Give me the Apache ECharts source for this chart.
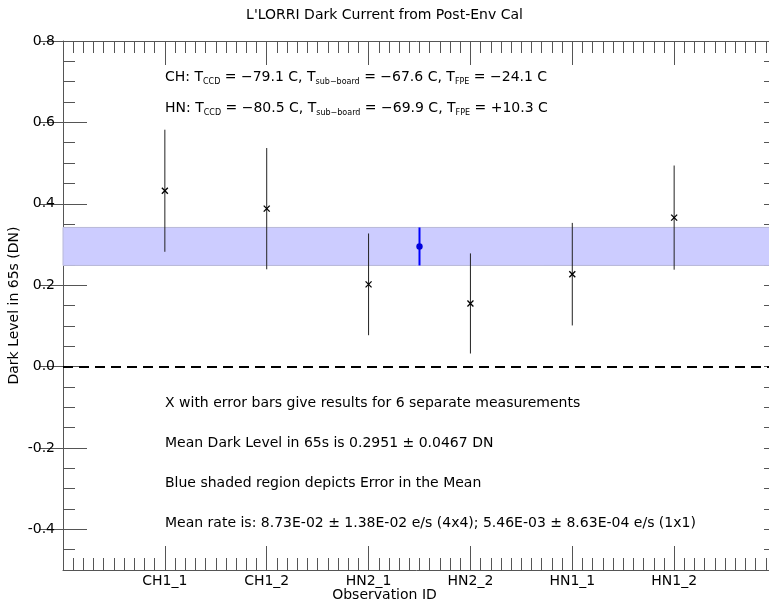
<!DOCTYPE html>
<html><head><meta charset="utf-8">
<script src="https://cdn.jsdelivr.net/npm/echarts@6/dist/echarts.min.js"></script>
<style>html,body{margin:0;padding:0;background:#fff}#c{width:769px;height:604px}</style>
</head><body><div id="c"></div>
<script>
// ---- data ----
const categories = ['CH1_1', 'CH1_2', 'HN2_1', 'HN2_2', 'HN1_1', 'HN1_2'];
const categoryPositions = [1, 2, 3, 4, 5, 6];
const darkLevels = [0.432, 0.388, 0.202, 0.155, 0.227, 0.366];
const darkErrors = [0.150, 0.149, 0.125, 0.123, 0.126, 0.128];
const meanPosition = 3.5;
const meanLevel = 0.2951;
const meanError = 0.0467;
const xRange = [0, 7];
const yRange = [-0.5, 0.8];
const yMajorTicks = [-0.4, -0.2, 0, 0.2, 0.4, 0.6, 0.8];
const yTickLabels = ['-0.4', '-0.2', '0.0', '0.2', '0.4', '0.6', '0.8'];
const titleText = "L'LORRI Dark Current from Post-Env Cal";
const xName = 'Observation ID';
const yName = 'Dark Level in 65s (DN)';
const chLine = '{n|CH: T}{s|CCD}{n| = −79.1 C, T}{s|sub−board}{n| = −67.6 C, T}{s|FPE}{n| = −24.1 C}';
const hnLine = '{n|HN: T}{s|CCD}{n| = −80.5 C, T}{s|sub−board}{n| = −69.9 C, T}{s|FPE}{n| = +10.3 C}';
const notes = [
  'X with error bars give results for 6 separate measurements',
  'Mean Dark Level in 65s is 0.2951 ± 0.0467 DN',
  'Blue shaded region depicts Error in the Mean',
  'Mean rate is: 8.73E-02 ± 1.38E-02 e/s (4x4); 5.46E-03 ± 8.63E-04 e/s (1x1)'
];

// ---- chart ----
const FONT = '"DejaVu Sans", sans-serif';
const AX = '#555';
const chart = echarts.init(document.getElementById('c'), null, {renderer: 'canvas'});

const measData = categoryPositions.map((p, i) => [p, darkLevels[i], darkErrors[i]]);

function xAxisDef(pos, showLabel) {
  return {
    type: 'value', position: pos, min: xRange[0], max: xRange[1], interval: 1,
    axisLine: {show: true, onZero: false, lineStyle: {color: AX, width: 1}},
    axisTick: {show: true, inside: true, length: 24, lineStyle: {color: AX}},
    minorTick: {show: true, splitNumber: 10, length: 12, lineStyle: {color: AX}},
    splitLine: {show: false}, minorSplitLine: {show: false},
    axisLabel: {show: showLabel, color: '#000', fontSize: 14, fontFamily: FONT, margin: 4,
      formatter: v => { const k = categoryPositions.indexOf(Math.round(v)); return k >= 0 ? categories[k] : ''; }}
  };
}
function yMinorDef(pos) {
  return {
    type: 'value', position: pos, min: yRange[0], max: yRange[1], interval: 0.05,
    axisLine: {show: true, onZero: false, lineStyle: {color: AX, width: 1}},
    axisTick: {show: true, inside: true, length: 12, lineStyle: {color: AX}},
    axisLabel: {show: false}, splitLine: {show: false}
  };
}
function yMajorDef(pos, showLabel) {
  const d = {
    type: 'value', position: pos, min: yRange[0], max: yRange[1],
    axisLine: {show: false},
    axisTick: {show: true, inside: true, length: 24, customValues: yMajorTicks, lineStyle: {color: AX}},
    axisLabel: {show: showLabel, customValues: yMajorTicks, color: '#000', fontSize: 14, fontFamily: FONT, margin: 8,
      formatter: v => { const k = yMajorTicks.findIndex(t => Math.abs(t - v) < 1e-9); return k >= 0 ? yTickLabels[k] : ''; }},
    splitLine: {show: false}
  };
  if (showLabel) {
    d.name = yName; d.nameLocation = 'middle'; d.nameGap = 49; d.nameMoveOverlap = false;
    d.nameTextStyle = {color: '#000', fontSize: 14, fontFamily: FONT, verticalAlign: 'middle'};
  }
  return d;
}

const sub = {fontSize: 8, fontFamily: FONT, fill: '#000', padding: [9, 0, 0, 0]};
const nrm = {fontSize: 14, fontFamily: FONT, fill: '#000', lineHeight: 20};

function txt(text, x, y, align) {
  return {type: 'text', x: x, y: y, silent: true,
    style: {text: text, fill: '#000', font: '14px ' + FONT, align: align || 'left', verticalAlign: 'middle'}};
}
function richTxt(text, x, y) {
  return {type: 'text', x: x, y: y, silent: true,
    style: {text: text, fill: '#000', font: '14px ' + FONT, align: 'left', verticalAlign: 'middle',
      rich: {n: nrm, s: sub}}};
}

const option = {
  animation: false,
  backgroundColor: '#fff',
  grid: {left: 63, top: 41, width: 713, height: 529, containLabel: false, outerBoundsMode: 'none'},
  xAxis: [xAxisDef('bottom', true), xAxisDef('top', false)],
  yAxis: [yMinorDef('left'), yMajorDef('left', true), yMinorDef('right'), yMajorDef('right', false)],
  graphic: [
    txt(titleText, 384.5, 15, 'center'),
    txt(xName, 384.5, 595, 'center'),
    richTxt(chLine, 165, 77),
    richTxt(hnLine, 165, 108),
    txt(notes[0], 165, 403),
    txt(notes[1], 165, 443),
    txt(notes[2], 165, 483),
    txt(notes[3], 165, 523)
  ],
  series: [
    {
      type: 'line', data: [], xAxisIndex: 0, yAxisIndex: 0, z: 1, silent: true,
      markArea: {silent: true,
        itemStyle: {color: '#ccccff', borderColor: '#b8b8d8', borderWidth: 1},
        data: [[{yAxis: meanLevel - meanError}, {yAxis: meanLevel + meanError}]]},
      markLine: {silent: true, symbol: 'none', label: {show: false},
        lineStyle: {color: '#000', width: 2, type: [10, 6]},
        data: [{yAxis: 0}]}
    },
    {
      type: 'custom', xAxisIndex: 0, yAxisIndex: 0, z: 3, silent: true,
      data: measData,
      renderItem: function (params, api) {
        const x = api.value(0), y = api.value(1), e = api.value(2);
        const t = api.coord([x, y + e]), b = api.coord([x, y - e]), c = api.coord([x, y]);
        const s = 3;
        const st = {stroke: '#222', lineWidth: 1};
        return {type: 'group', children: [
          {type: 'line', shape: {x1: t[0], y1: t[1], x2: b[0], y2: b[1]}, style: st},
          {type: 'line', shape: {x1: c[0] - s, y1: c[1] - s, x2: c[0] + s, y2: c[1] + s}, style: {stroke: '#000', lineWidth: 1.3}},
          {type: 'line', shape: {x1: c[0] - s, y1: c[1] + s, x2: c[0] + s, y2: c[1] - s}, style: {stroke: '#000', lineWidth: 1.3}}
        ]};
      }
    },
    {
      type: 'custom', xAxisIndex: 0, yAxisIndex: 0, z: 4, silent: true,
      data: [[meanPosition, meanLevel, meanError]],
      renderItem: function (params, api) {
        const x = api.value(0), y = api.value(1), e = api.value(2);
        const t = api.coord([x, y + e]), b = api.coord([x, y - e]), c = api.coord([x, y]);
        return {type: 'group', children: [
          {type: 'line', shape: {x1: t[0], y1: t[1], x2: b[0], y2: b[1]}, style: {stroke: '#0000ff', lineWidth: 2}},
          {type: 'circle', shape: {cx: c[0], cy: c[1], r: 3.2}, style: {fill: '#0000dd'}}
        ]};
      }
    }
  ]
};
chart.setOption(option);
</script>
</body></html>
